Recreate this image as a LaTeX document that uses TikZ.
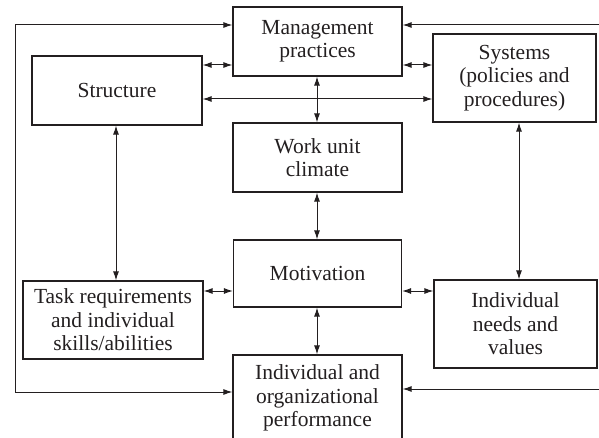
\documentclass[tikz,border=0pt]{standalone}
\usepackage{fontspec}
\setmainfont{Liberation Serif}
\usetikzlibrary{arrows.meta}
\definecolor{ink}{HTML}{231F20}
\begin{document}
\begin{tikzpicture}[x=1pt,y=-1pt,
  box/.style={draw=ink,line width=1.2pt,align=center,inner sep=0pt,
    font=\fontsize{21.5}{23.5}\selectfont,text=ink},
  link/.style={draw=ink,line width=1pt,{Latex[length=9pt,width=6pt]}-{Latex[length=9pt,width=6pt]}},
  oneway/.style={draw=ink,line width=1pt,-{Latex[length=9pt,width=6pt]}}]
\useasboundingbox (0,0) rectangle (599,438);
\node[box,minimum width=169pt,minimum height=69pt] (mgmt) at (317.5,41.5) {Management\\practices};
\node[box,minimum width=170pt,minimum height=69pt] (struct) at (117,90.5) {Structure};
\node[box,minimum width=163pt,minimum height=88pt] (sys) at (514.5,78) {Systems\\(policies and\\procedures)};
\node[box,minimum width=169pt,minimum height=69pt] (work) at (317.5,157.5) {Work unit\\climate};
\node[box,minimum width=168pt,minimum height=67pt] (motiv) at (317.5,273.5) {Motivation};
\node[box,minimum width=180pt,minimum height=78pt] (task) at (113,320) {Task requirements\\and individual\\skills/abilities};
\node[box,minimum width=163pt,minimum height=88pt] (needs) at (515.5,324) {Individual\\needs and\\values};
\node[box,minimum width=169pt,minimum height=86pt] (perf) at (317.5,398) {Individual and\\organizational\\performance};
% horizontal links
\coordinate (y65) at (0,65);
\coordinate (y99) at (0,99);
\coordinate (y291) at (0,291);
\draw[link] (struct.east|-y65) -- (mgmt.west|-y65);
\draw[link] (mgmt.east|-y65) -- (sys.west|-y65);
\draw[link] (struct.east|-y99) -- (sys.west|-y99);
\draw[link] (task.east|-y291) -- (motiv.west|-y291);
\draw[link] (motiv.east|-y291) -- (needs.west|-y291);
% vertical links
\coordinate (x317) at (317,0);
\coordinate (x116) at (116,0);
\coordinate (x519) at (519,0);
\draw[link] (mgmt.south-|x317) -- (work.north-|x317);
\draw[link] (work.south-|x317) -- (motiv.north-|x317);
\draw[link] (motiv.south-|x317) -- (perf.north-|x317);
\draw[link] (struct.south-|x116) -- (task.north-|x116);
\draw[link] (sys.south-|x519) -- (needs.north-|x519);
% feedback loops
\coordinate (lt) at (15,25);
\coordinate (lb) at (15,392);
\draw[link] (mgmt.west|-lt) -- (lt) -- (lb) -- (perf.west|-lb);
\coordinate (rt) at (599,25);
\coordinate (rb) at (599,389);
\draw[oneway] (rt) -- (mgmt.east|-rt);
\draw[oneway] (rb) -- (perf.east|-rb);
\end{tikzpicture}
\end{document}
